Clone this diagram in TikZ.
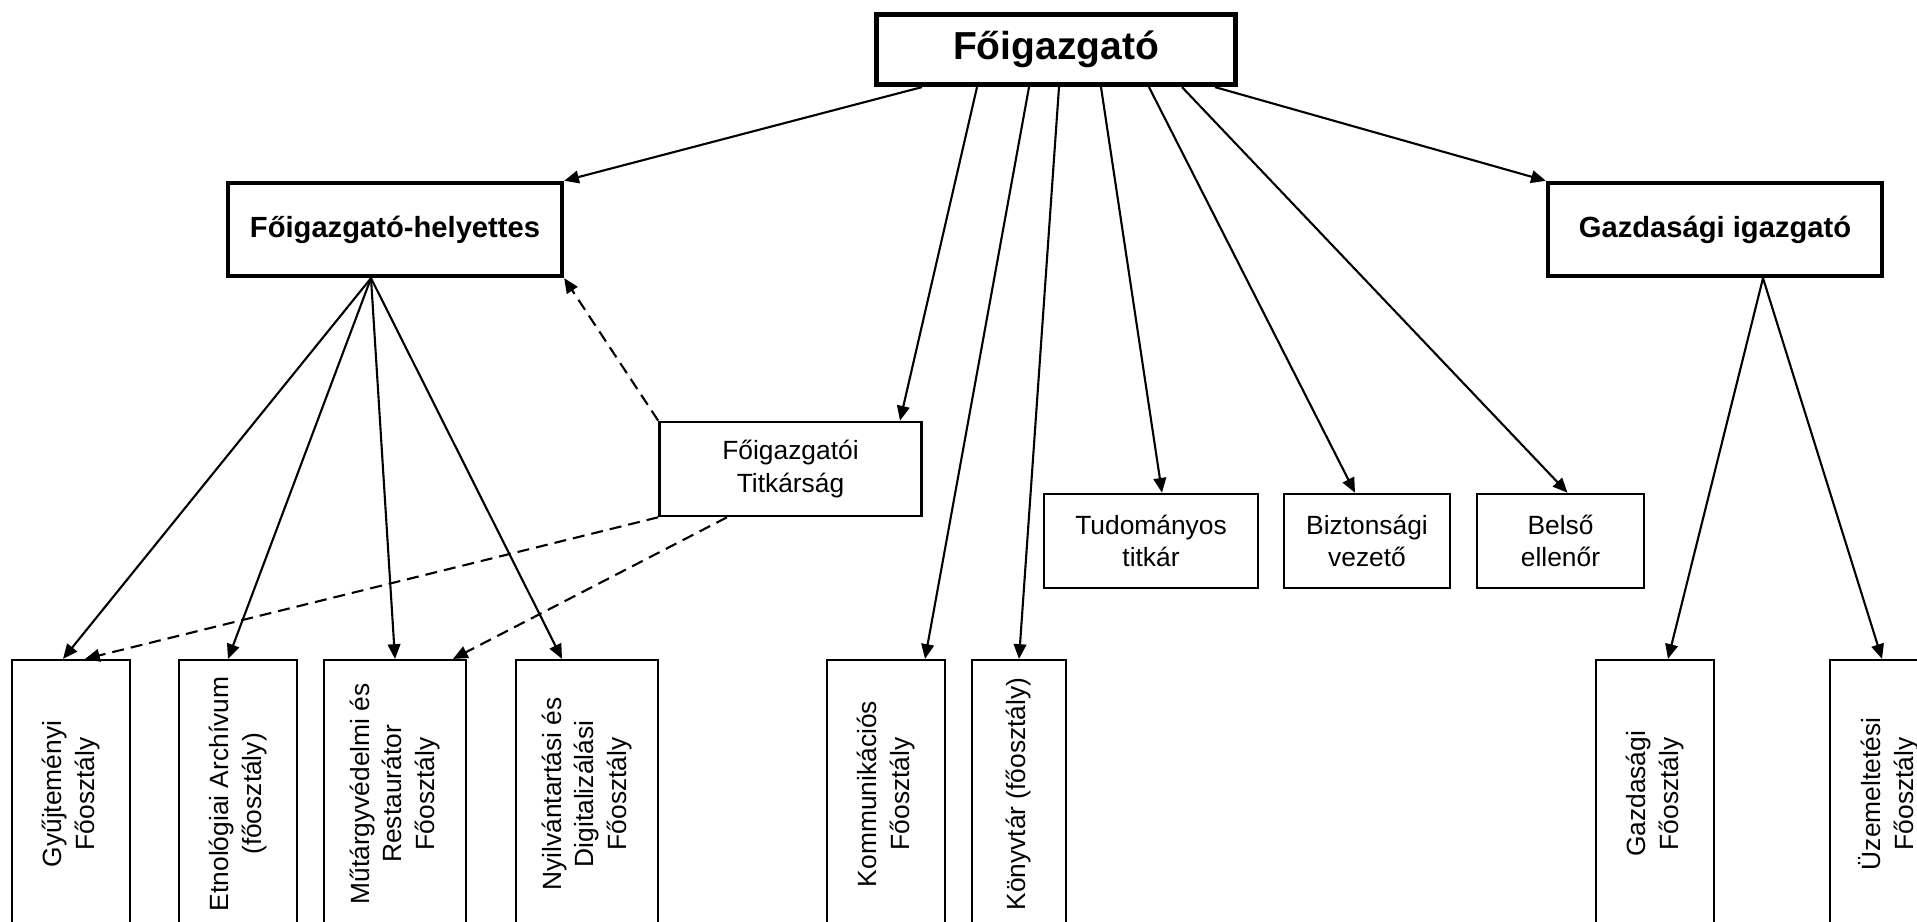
\documentclass[tikz,border=0pt]{standalone}
\usepackage{fontspec}
\setmainfont{Liberation Sans}
\usetikzlibrary{arrows.meta,positioning}

\begin{document}
\begin{tikzpicture}[
  >={Triangle[length=4.2pt,width=3.6pt]},
  box/.style={rectangle, draw, fill=white, inner sep=1pt, align=center},
  chief/.style={box, line width=1.5pt, minimum width=3.59cm, minimum height=0.70cm, font=\fontsize{11.1}{13}\selectfont\bfseries},
  deputy/.style={box, line width=1.1pt, minimum width=3.345cm, minimum height=0.935cm, font=\fontsize{8.3}{10}\selectfont\bfseries},
  office/.style={box, line width=0.7pt, minimum height=0.94cm, font=\fontsize{7.5}{9.3}\selectfont},
  dept/.style={box, line width=0.6pt, rotate=90, minimum width=2.68cm, font=\fontsize{7.5}{9.3}\selectfont},
  flow/.style={->, line width=0.6pt},
  aux/.style={->, line width=0.6pt, dash pattern=on 3.4pt off 2pt}
]
  \useasboundingbox (0,0) rectangle (19.17,9.22);
  \clip (0,0) rectangle (19.17,9.22);

  \node[chief] (fo) at (10.56,8.725) {Főigazgató};
  \node[deputy] (hely) at (3.95,6.925) {Főigazgató-helyettes};
  \node[deputy] (gig) at (17.15,6.925) {Gazdasági igazgató};
  \node[office, line width=0.75pt, minimum width=2.62cm] (titk) at (7.905,4.53) {Főigazgatói\\Titkárság};
  \node[office, minimum width=2.14cm] (tud) at (11.51,3.81) {Tudományos\\titkár};
  \node[office, minimum width=1.66cm] (bizt) at (13.67,3.81) {Biztonsági\\vezető};
  \node[office, minimum width=1.67cm] (bels) at (15.605,3.81) {Belső\\ellenőr};

  \node[dept, minimum height=1.18cm] (gyuj) at (0.71,1.28) {Gyűjteményi\\Főosztály};
  \node[dept, minimum height=1.18cm] (etno) at (2.38,1.28) {Etnológiai Archívum\\(főosztály)};
  \node[dept, minimum height=1.42cm] (mutar) at (3.95,1.28) {Műtárgyvédelmi és\\Restaurátor\\Főosztály};
  \node[dept, minimum height=1.42cm] (nyilv) at (5.87,1.28) {Nyilvántartási és\\Digitalizálási\\Főosztály};
  \node[dept, minimum height=1.18cm] (komm) at (8.86,1.28) {Kommunikációs\\Főosztály};
  \node[dept, minimum height=0.94cm] (konyv) at (10.19,1.28) {Könyvtár (főosztály)};
  \node[dept, minimum height=1.18cm] (gazdf) at (16.55,1.28) {Gazdasági\\Főosztály};
  \node[dept, minimum height=1.18cm] (uzem) at (18.89,1.28) {Üzemeltetési\\Főosztály};

  \draw[flow] ([xshift=-1.34cm]fo.south) -- (hely.north east);
  \draw[flow] ([xshift=-0.79cm]fo.south) -- ([xshift=1.095cm]titk.north);
  \draw[flow] ([xshift=-0.27cm]fo.south) -- ([xshift=0.39cm]komm.east);
  \draw[flow] ([xshift=0.03cm]fo.south) -- (konyv.east);
  \draw[flow] ([xshift=0.45cm]fo.south) -- ([xshift=0.11cm]tud.north);
  \draw[flow] ([xshift=0.93cm]fo.south) -- ([xshift=-0.12cm]bizt.north);
  \draw[flow] ([xshift=1.26cm]fo.south) -- ([xshift=0.07cm]bels.north);
  \draw[flow] ([xshift=1.59cm]fo.south) -- (gig.north west);

  \draw[flow] ([xshift=-0.24cm]hely.south) -- ([xshift=-0.08cm]gyuj.east);
  \draw[flow] ([xshift=-0.24cm]hely.south) -- ([xshift=-0.10cm]etno.east);
  \draw[flow] ([xshift=-0.24cm]hely.south) -- (mutar.east);
  \draw[flow] ([xshift=-0.24cm]hely.south) -- ([xshift=-0.25cm]nyilv.east);

  \draw[flow] ([xshift=0.48cm]gig.south) -- ([xshift=0.13cm]gazdf.east);
  \draw[flow] ([xshift=0.48cm]gig.south) -- ([xshift=-0.07cm]uzem.east);

  \draw[aux] (titk.north west) -- (hely.south east);
  \draw[aux] (titk.south west) -- ([xshift=0.14cm]gyuj.east);
  \draw[aux] ([xshift=-0.635cm]titk.south) -- ([xshift=0.58cm]mutar.east);
\end{tikzpicture}
\end{document}
